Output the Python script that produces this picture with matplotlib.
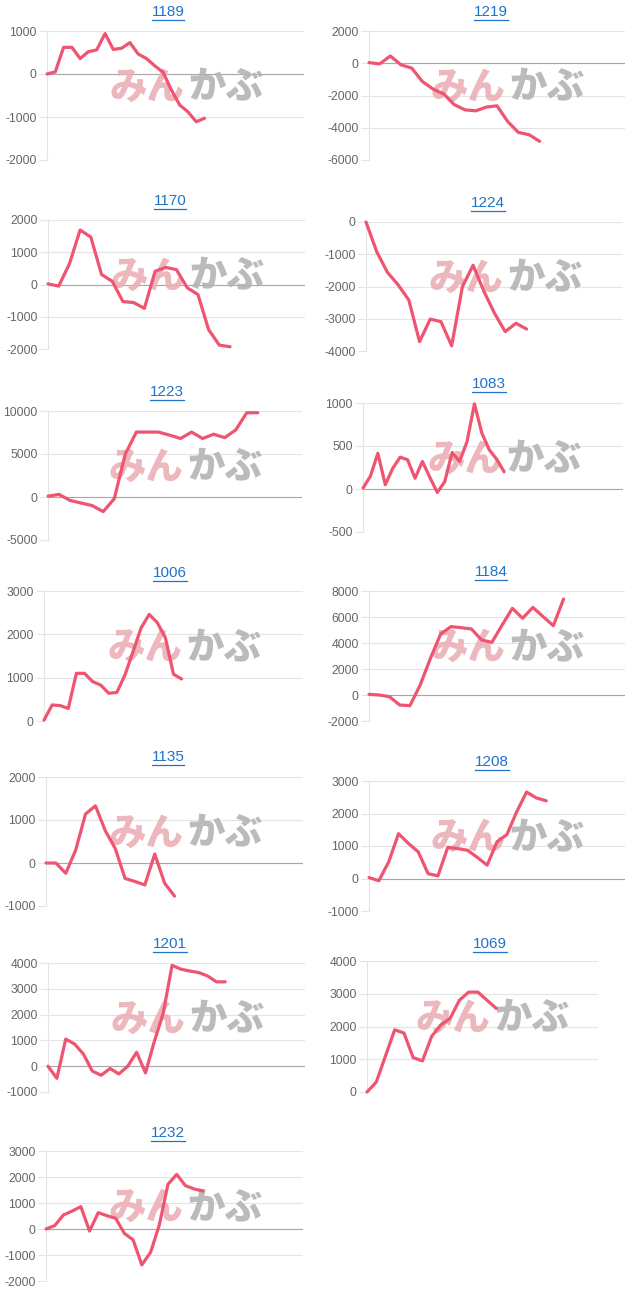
import matplotlib
matplotlib.use("Agg")
import matplotlib.pyplot as plt
from matplotlib.lines import Line2D

# Canvas size in pixels (dpi 100)
W, H = 640, 1303

LINE_COLOR = "#ef5470"
TITLE_BLUE = "#1f73c9"
TICK_INK = "#666666"
GRID = "#e4e4e4"
ZERO = "#a8a8a8"
WM_PINK = "#eab0b6"
WM_GRAY = "#b4b4b4"

# Panel titles (stock codes), in reading order
codes = ["1189", "1219", "1170", "1224", "1223", "1083", "1006",
         "1184", "1135", "1208", "1201", "1069", "1232"]

# Series values
s1189 = [0, 50, 620, 620, 360, 520, 560, 940, 570, 600, 730, 465, 360, 190,
         40, -370, -720, -880, -1110, -1030]
s1219 = [40, -40, 450, -100, -300, -1130, -1600, -1900, -2570, -2890, -2950,
         -2720, -2640, -3610, -4290, -4430, -4840]
s1170 = [20, -50, 640, 1690, 1470, 310, 100, -530, -560, -740, 410, 530, 460,
         -100, -310, -1400, -1880, -1930]
s1224 = [0, -920, -1560, -1950, -2420, -3710, -3010, -3090, -3840, -2010,
         -1340, -2140, -2830, -3400, -3140, -3320]
s1223 = [100, 300, -400, -700, -1000, -1700, -200, 5000, 7550, 7550, 7550,
         7200, 6800, 7550, 6800, 7300, 6900, 7800, 9800, 9800]
s1083 = [10, 150, 415, 50, 240, 370, 340, 125, 320, 135, -40, 85, 425, 320,
         550, 990, 650, 455, 345, 200]
s1006 = [20, 370, 355, 290, 1100, 1100, 910, 830, 640, 660, 1060, 1600, 2150,
         2460, 2270, 1920, 1080, 970]
s1184 = [50, 0, -130, -770, -820, 770, 2820, 4690, 5260, 5180, 5080, 4230,
         4050, 5380, 6670, 5900, 6740, 6030, 5330, 7380]
s1135 = [0, 0, -240, 300, 1140, 1330, 750, 340, -360, -430, -510, 210, -470,
         -770]
s1208 = [30, -70, 510, 1380, 1080, 820, 150, 80, 960, 920, 870, 650, 410,
         1130, 1350, 2050, 2660, 2480, 2390]
s1201 = [0, -470, 1050, 860, 470, -190, -350, -90, -300, 0, 540, -260, 960,
         2050, 3910, 3760, 3690, 3630, 3500, 3270, 3270]
s1069 = [0, 300, 1100, 1900, 1800, 1050, 950, 1700, 2050, 2250, 2800, 3050,
         3050, 2800, 2550]
s1232 = [0, 130, 540, 690, 860, -80, 630, 510, 410, -170, -420, -1380, -900,
         150, 1720, 2100, 1670, 1540, 1460]

series = [s1189, s1219, s1170, s1224, s1223, s1083, s1006,
          s1184, s1135, s1208, s1201, s1069, s1232]

# y ticks (min, max, step) per panel
yticks = [(-2000, 1000, 1000), (-6000, 2000, 2000), (-2000, 2000, 1000),
          (-4000, 0, 1000), (-5000, 10000, 5000), (-500, 1000, 500),
          (0, 3000, 1000), (-2000, 8000, 2000), (-1000, 2000, 1000),
          (-1000, 3000, 1000), (-1000, 4000, 1000), (0, 4000, 1000),
          (-2000, 3000, 1000)]

# Layout: plot box in pixels (left, right, top, bottom), number of x slots,
# title centre (x, y) in pixels
boxes = [(47, 304, 31, 160), (369, 625, 31, 160),
         (48, 305, 220, 349), (366, 623, 222, 351),
         (48, 302, 411, 540), (363, 623, 403, 532),
         (44, 303, 591, 721), (369, 625, 591, 721),
         (46, 303, 777, 906), (369, 625, 781, 911),
         (48, 305, 963, 1092), (367, 598, 961, 1092),
         (46, 303, 1151, 1281)]
xspan = [31, 24, 24, 24, 23, 35, 32, 25, 26, 26, 29, 25, 29.5]
title_pos = [(168, 12), (491, 12), (170, 201), (488, 203), (167, 392),
             (489, 384), (170, 573), (491, 572), (168, 757), (492, 762),
             (170, 944), (490, 944), (168, 1133)]

plt.rcParams["font.family"] = ["Liberation Sans", "DejaVu Sans"]

fig = plt.figure(figsize=(W / 100, H / 100), dpi=100)
fig.patch.set_facecolor("white")

titles = []
for i, code in enumerate(codes):
    l, r, t, b = boxes[i]
    ax = fig.add_axes([l / W, 1 - b / H, (r - l) / W, (b - t) / H])
    vals = series[i]
    ax.plot(range(len(vals)), vals, color=LINE_COLOR, linewidth=2.3,
            solid_joinstyle="round", solid_capstyle="round", zorder=4,
            clip_on=False)

    lo, hi, step = yticks[i]
    ticks = list(range(lo, hi + 1, step))
    ax.set_ylim(lo, hi)
    ax.set_xlim(0, xspan[i])
    ax.set_yticks(ticks)
    ax.set_yticklabels([str(v) for v in ticks])
    ax.set_xticks([])

    ax.yaxis.grid(True, color=GRID, linewidth=0.8, zorder=0)
    ax.set_axisbelow(True)
    if lo < 0 < hi:
        ax.axhline(0, color=ZERO, linewidth=0.8, zorder=1)

    for side in ("top", "right", "bottom"):
        ax.spines[side].set_visible(False)
    ax.spines["left"].set_color(GRID)
    ax.spines["left"].set_linewidth(0.8)
    ax.tick_params(axis="y", length=6, width=0.8, color=GRID, pad=1.5,
                   labelsize=8.7, labelcolor=TICK_INK)

    # watermark logo
    wx = 0.535
    wy = 0.5 + 8 / (b - t)
    ax.text(wx, wy, "みん", transform=ax.transAxes, ha="right", va="center",
            fontsize=27, fontweight="black", color=WM_PINK, alpha=0.9,
            family=["Noto Sans CJK JP"], zorder=2)
    ax.text(wx + 0.015, wy, "かぶ", transform=ax.transAxes, ha="left",
            va="center", fontsize=27, fontweight="black", color=WM_GRAY,
            alpha=0.9, family=["Noto Sans CJK JP"], zorder=2)

    tx, ty = title_pos[i]
    titles.append(fig.text(tx / W, 1 - ty / H, code, ha="center",
                           va="center", fontsize=11, color=TITLE_BLUE))

# underline the linked titles
renderer = fig.canvas.get_renderer()
for txt in titles:
    bb = txt.get_window_extent(renderer)
    y = (bb.y0 - 1) / H
    fig.add_artist(Line2D([bb.x0 / W, bb.x1 / W], [y, y],
                          transform=fig.transFigure, color=TITLE_BLUE,
                          linewidth=0.9))

fig.savefig("out.png", dpi=100, facecolor="white")
